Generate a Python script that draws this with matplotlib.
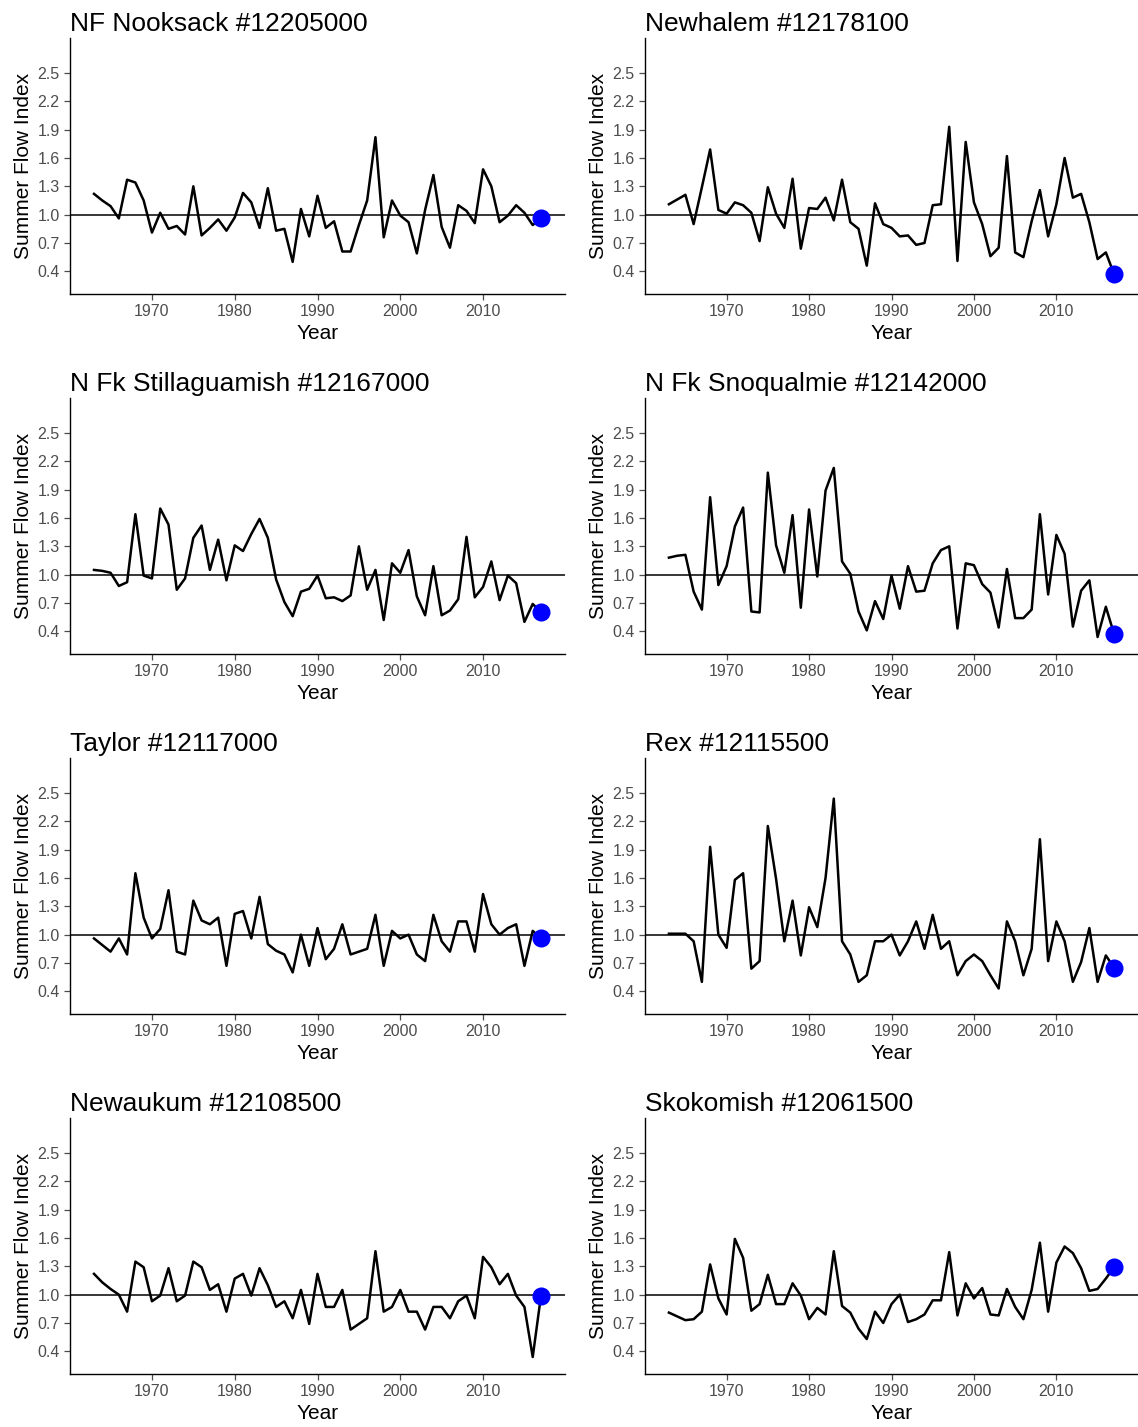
import matplotlib
matplotlib.use("Agg")
import matplotlib.pyplot as plt
import numpy as np

plt.rcParams['font.family'] = ['Liberation Sans', 'DejaVu Sans']

years = list(range(1963, 2018))

titles = ["NF Nooksack #12205000", "Newhalem #12178100",
          "N Fk Stillaguamish #12167000", "N Fk Snoqualmie #12142000",
          "Taylor #12117000", "Rex #12115500",
          "Newaukum #12108500", "Skokomish #12061500"]

nooksack = [1.22,1.15,1.09,0.96,1.37,1.34,1.15,0.81,1.02,0.85,0.88,0.79,1.30,0.78,0.86,0.95,0.83,0.97,1.23,1.13,
            0.86,1.28,0.83,0.85,0.50,1.06,0.77,1.20,0.86,0.93,0.61,0.61,0.89,1.15,1.82,0.76,1.15,0.99,0.92,0.59,
            1.05,1.42,0.87,0.65,1.10,1.04,0.91,1.48,1.30,0.92,0.99,1.10,1.02,0.89,0.96]
newhalem = [1.11,1.16,1.21,0.90,1.29,1.69,1.05,1.01,1.13,1.10,1.02,0.72,1.29,1.01,0.86,1.38,0.64,1.07,1.06,1.18,
            0.94,1.37,0.92,0.85,0.46,1.12,0.90,0.86,0.77,0.78,0.68,0.70,1.10,1.11,1.93,0.51,1.77,1.13,0.90,0.56,
            0.65,1.62,0.60,0.55,0.93,1.26,0.77,1.11,1.60,1.18,1.22,0.92,0.53,0.60,0.37]
stillaguamish = [1.05,1.04,1.02,0.88,0.92,1.64,0.99,0.96,1.70,1.53,0.84,0.96,1.39,1.52,1.05,1.37,0.94,1.31,1.25,1.43,
                 1.59,1.39,0.95,0.71,0.56,0.82,0.85,0.99,0.75,0.76,0.72,0.78,1.30,0.84,1.05,0.52,1.12,1.02,1.26,0.77,
                 0.57,1.09,0.57,0.62,0.74,1.40,0.76,0.87,1.14,0.73,0.99,0.91,0.50,0.69,0.60]
snoqualmie = [1.18,1.20,1.21,0.82,0.63,1.82,0.89,1.09,1.51,1.71,0.61,0.60,2.08,1.31,1.02,1.63,0.65,1.69,0.98,1.89,
              2.13,1.14,1.01,0.61,0.41,0.72,0.53,0.99,0.64,1.09,0.82,0.83,1.12,1.26,1.30,0.43,1.12,1.10,0.90,0.81,
              0.44,1.06,0.54,0.54,0.63,1.64,0.79,1.42,1.22,0.45,0.83,0.94,0.34,0.66,0.37]
taylor = [0.96,0.89,0.82,0.96,0.79,1.65,1.18,0.96,1.06,1.47,0.82,0.79,1.36,1.15,1.11,1.18,0.67,1.22,1.25,0.96,
          1.40,0.90,0.83,0.79,0.60,1.00,0.67,1.07,0.74,0.85,1.11,0.79,0.82,0.85,1.21,0.67,1.04,0.96,1.00,0.79,
          0.72,1.21,0.93,0.82,1.14,1.14,0.82,1.43,1.11,1.00,1.07,1.11,0.67,1.04,0.96]
rex = [1.01,1.01,1.01,0.93,0.50,1.93,1.00,0.86,1.58,1.65,0.64,0.72,2.15,1.59,0.93,1.36,0.78,1.29,1.08,1.60,
       2.44,0.93,0.79,0.50,0.57,0.93,0.93,1.00,0.78,0.93,1.14,0.85,1.21,0.85,0.93,0.57,0.72,0.79,0.72,0.57,
       0.43,1.14,0.93,0.57,0.85,2.01,0.72,1.14,0.93,0.50,0.71,1.07,0.50,0.78,0.65]
newaukum = [1.22,1.13,1.06,1.00,0.82,1.35,1.29,0.93,0.99,1.28,0.93,0.99,1.35,1.29,1.05,1.11,0.82,1.17,1.22,0.99,
            1.28,1.10,0.87,0.93,0.75,1.05,0.69,1.22,0.87,0.87,1.05,0.63,0.69,0.75,1.46,0.82,0.87,1.05,0.82,0.82,
            0.63,0.87,0.87,0.75,0.93,0.99,0.75,1.40,1.29,1.11,1.22,0.99,0.87,0.34,0.99]
skokomish = [0.81,0.77,0.73,0.74,0.82,1.32,0.96,0.79,1.59,1.39,0.83,0.90,1.21,0.90,0.90,1.12,0.99,0.74,0.86,0.79,
             1.46,0.88,0.81,0.64,0.53,0.82,0.70,0.90,1.00,0.71,0.74,0.79,0.94,0.94,1.45,0.78,1.12,0.96,1.07,0.79,
             0.78,1.06,0.87,0.74,1.05,1.55,0.82,1.34,1.51,1.44,1.28,1.04,1.06,1.17,1.29]

series = [nooksack, newhalem, stillaguamish, snoqualmie, taylor, rex, newaukum, skokomish]

yticks = [0.4, 0.7, 1.0, 1.3, 1.6, 1.9, 2.2, 2.5]
xticks = [1970, 1980, 1990, 2000, 2010]

W, H = 1138, 1427
fig = plt.figure(figsize=(W/100, H/100), dpi=100)
lefts = [70, 645]
widths = [495, 493]
for i, (t, vals) in enumerate(zip(titles, series)):
    r, c = divmod(i, 2)
    top = 38 + 360*r
    ax = fig.add_axes([lefts[c]/W, (H - (top+256))/H, widths[c]/W, 256/H])
    ax.plot(years, vals, color='black', lw=1.8, zorder=2)
    ax.axhline(1.0, color='black', lw=1.1, zorder=1)
    ax.plot(years[-1], vals[-1], 'o', color='#0000ff', ms=12, zorder=3)
    ax.set_xlim(1960.1, 2019.9)
    ax.set_ylim(0.16, 2.87)
    ax.set_xticks(xticks)
    ax.set_yticks(yticks)
    ax.set_yticklabels([f"{v:.1f}" for v in yticks])
    for s in ['top', 'right']:
        ax.spines[s].set_visible(False)
    for s in ['left', 'bottom']:
        ax.spines[s].set_linewidth(1.0)
    ax.tick_params(colors='#4d4d4d', labelsize=11.5, length=4, width=0.9)
    ax.set_xlabel("Year", fontsize=15, labelpad=3)
    ax.set_ylabel("Summer Flow Index", fontsize=15, labelpad=3)
    ax.set_title(t, fontsize=19, loc='left', pad=5)

fig.savefig("out.png", dpi=100)
